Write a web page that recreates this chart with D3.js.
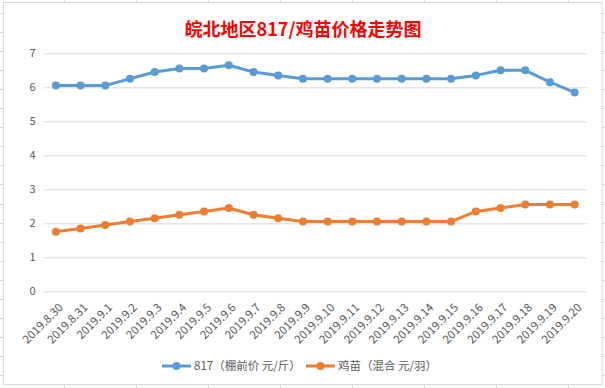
<!DOCTYPE html>
<html>
<head>
<meta charset="utf-8">
<script src="https://cdn.jsdelivr.net/npm/d3@7"></script>
<style>
  body { margin: 0; background: #fff; }
  svg { display: block; }
</style>
</head>
<body>
<svg width="605" height="388"></svg>
<script>
const dates = ["2019.8.30","2019.8.31","2019.9.1","2019.9.2","2019.9.3","2019.9.4","2019.9.5","2019.9.6","2019.9.7","2019.9.8","2019.9.9","2019.9.10","2019.9.11","2019.9.12","2019.9.13","2019.9.14","2019.9.15","2019.9.16","2019.9.17","2019.9.18","2019.9.19","2019.9.20"];
const price817 = [6.05,6.05,6.05,6.25,6.45,6.55,6.55,6.65,6.45,6.35,6.25,6.25,6.25,6.25,6.25,6.25,6.25,6.35,6.5,6.5,6.15,5.85];
const priceChick = [1.75,1.85,1.95,2.05,2.15,2.25,2.35,2.45,2.25,2.15,2.05,2.05,2.05,2.05,2.05,2.05,2.05,2.35,2.45,2.55,2.55,2.55];
const yTicks = [0,1,2,3,4,5,6,7];
const seriesNames = ["817（棚前价 元/斤）", "鸡苗（混合 元/羽）"];
const colors = ["#5B9BD5", "#ED7D31"];

const svg = d3.select("svg");
const font = "'Noto Sans CJK SC', 'Noto Sans', sans-serif";

// excel sheet grid behind the chart
const sheet = svg.append("g").attr("stroke", "#d4d4d4").attr("stroke-width", 1);
d3.range(12.5, 388, 19.1).forEach(y => {
  sheet.append("line").attr("x1", 0).attr("x2", 605).attr("y1", Math.round(y) + 0.5).attr("y2", Math.round(y) + 0.5);
});
d3.range(64, 605, 72).forEach(x => {
  sheet.append("line").attr("x1", Math.round(x) + 0.5).attr("x2", Math.round(x) + 0.5).attr("y1", 0).attr("y2", 388);
});

// chart area
svg.append("rect")
  .attr("x", 3.5).attr("y", 2.5)
  .attr("width", 598.5).attr("height", 382)
  .attr("fill", "#fff")
  .attr("stroke", "#d9d9d9");

const x = d3.scaleBand().domain(dates).range([43.5, 587]);
const y = d3.scaleLinear().domain([0, 7]).range([291.3, 53.3]);

// title
svg.append("text")
  .attr("x", 303).attr("y", 36)
  .attr("text-anchor", "middle")
  .attr("font-family", font)
  .attr("font-weight", "bold")
  .attr("font-size", 18)
  .attr("fill", "#ff0000")
  .text("皖北地区817/鸡苗价格走势图");

// gridlines + y labels
const yAxis = svg.append("g")
  .attr("transform", "translate(43.5,0)")
  .call(d3.axisLeft(y).tickValues(yTicks).tickSize(-543.5).tickPadding(8).tickFormat(d3.format("d")));
yAxis.select(".domain").remove();
yAxis.selectAll(".tick line").attr("stroke", "#d9d9d9").attr("stroke-width", 1);
yAxis.selectAll(".tick text")
  .attr("font-family", font).attr("font-size", 11).attr("fill", "#595959");

// x labels
const xAxis = svg.append("g")
  .attr("transform", "translate(0,291.3)")
  .call(d3.axisBottom(x).tickSize(0).tickPadding(0));
xAxis.select(".domain").remove();
xAxis.selectAll(".tick text")
  .attr("font-family", font).attr("font-size", 11.5).attr("fill", "#595959")
  .attr("text-anchor", "end")
  .attr("y", 0).attr("dy", "0.35em")
  .attr("transform", "translate(5,14) rotate(-45)");

const cx = d => x(d) + x.bandwidth() / 2;
const line = d3.line().x((d, i) => cx(dates[i])).y(d => y(d));

[price817, priceChick].forEach((vals, k) => {
  svg.append("path")
    .datum(vals)
    .attr("fill", "none")
    .attr("stroke", colors[k])
    .attr("stroke-width", 3)
    .attr("stroke-linejoin", "round")
    .attr("d", line);
  svg.append("g").selectAll("circle")
    .data(vals)
    .join("circle")
    .attr("cx", (d, i) => cx(dates[i]))
    .attr("cy", d => y(d))
    .attr("r", 4)
    .attr("fill", colors[k]);
});

// legend
const legendX = [162, 306];
const legend = svg.append("g");
seriesNames.forEach((name, k) => {
  const g = legend.append("g").attr("transform", `translate(${legendX[k]},366)`);
  g.append("line").attr("x1", 0).attr("x2", 29).attr("stroke", colors[k]).attr("stroke-width", 3);
  g.append("circle").attr("cx", 14.5).attr("r", 4).attr("fill", colors[k]);
  g.append("text")
    .attr("x", 32).attr("dy", "0.35em")
    .attr("font-family", font).attr("font-size", 11.5).attr("fill", "#595959")
    .text(name);
});
</script>
</body>
</html>
